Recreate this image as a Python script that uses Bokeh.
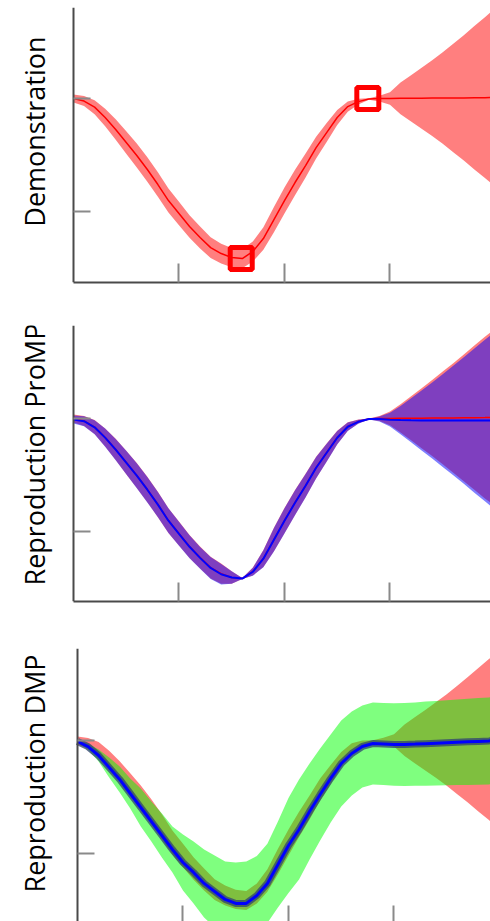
from bokeh.plotting import figure
from bokeh.models import Range1d, FixedTicker
from bokeh.core.properties import value
from bokeh.layouts import column
from bokeh.embed import file_html
from bokeh.resources import INLINE
import math

# Time samples shared by every trajectory
t = [0.0, 0.1, 0.2, 0.3, 0.4, 0.5, 0.6, 0.7, 0.8, 0.9,
     1.0, 1.1, 1.2, 1.3, 1.4, 1.5, 1.6, 1.7, 1.8, 1.9,
     2.0, 2.1, 2.2, 2.3, 2.4, 2.5, 2.6, 2.7, 2.8, 2.9,
     3.0, 3.1, 3.2, 3.3, 3.4, 3.5, 3.6, 3.7, 3.8, 3.9, 3.95]

# Demonstrated trajectory: mean and standard deviation
demo_mean = [1.000, 0.978, 0.924, 0.832, 0.726, 0.611, 0.496, 0.372, 0.239, 0.097,
             -0.018, -0.133, -0.230, -0.319, -0.372, -0.407, -0.416, -0.354, -0.239, -0.071,
             0.097, 0.257, 0.407, 0.566, 0.699, 0.832, 0.929, 0.973, 0.996, 1.000,
             1.001, 1.002, 1.002, 1.003, 1.004, 1.005, 1.005, 1.006, 1.007, 1.008, 1.009]
demo_sd = [0.035, 0.044, 0.062, 0.078, 0.090, 0.100, 0.106, 0.108, 0.108, 0.106,
           0.104, 0.100, 0.097, 0.092, 0.088, 0.085, 0.085, 0.088, 0.100, 0.112,
           0.115, 0.112, 0.106, 0.097, 0.084, 0.066, 0.046, 0.026, 0.006, 0.025,
           0.055, 0.140, 0.205, 0.270, 0.336, 0.405, 0.480, 0.555, 0.635, 0.712, 0.752]

# Via points imposed on the demonstration
via_t = [1.59, 2.79]
via_y = [-0.416, 1.000]

# ProMP reproduction (conditioned on the via points)
promp_mean = [0.991, 0.976, 0.922, 0.831, 0.725, 0.610, 0.494, 0.370, 0.238, 0.096,
              -0.020, -0.135, -0.233, -0.322, -0.378, -0.407, -0.416, -0.356, -0.240, -0.072,
              0.095, 0.255, 0.405, 0.564, 0.697, 0.830, 0.927, 0.971, 0.995, 0.995,
              0.990, 0.986, 0.984, 0.983, 0.983, 0.982, 0.982, 0.982, 0.982, 0.982, 0.982]
promp_sd = [0.035, 0.044, 0.062, 0.080, 0.094, 0.104, 0.110, 0.112, 0.112, 0.110,
            0.106, 0.102, 0.097, 0.097, 0.090, 0.055, 0.005, 0.035, 0.075, 0.104,
            0.112, 0.110, 0.104, 0.095, 0.080, 0.060, 0.038, 0.018, 0.004, 0.022,
            0.060, 0.125, 0.195, 0.265, 0.336, 0.410, 0.485, 0.560, 0.638, 0.715, 0.752]

# DMP reproduction
dmp_mean = [0.991, 0.945, 0.867, 0.761, 0.655, 0.531, 0.407, 0.283, 0.159, 0.035,
            -0.080, -0.168, -0.265, -0.336, -0.407, -0.442, -0.442, -0.372, -0.265, -0.097,
            0.071, 0.212, 0.372, 0.522, 0.664, 0.796, 0.885, 0.947, 0.973, 0.969,
            0.965, 0.965, 0.968, 0.972, 0.976, 0.980, 0.984, 0.988, 0.992, 0.996, 1.000]
dmp_sd = [0.010, 0.027, 0.053, 0.088, 0.115, 0.133, 0.168, 0.177, 0.195, 0.204,
          0.248, 0.274, 0.301, 0.319, 0.336, 0.363, 0.372, 0.350, 0.350, 0.380,
          0.420, 0.442, 0.425, 0.407, 0.389, 0.381, 0.372, 0.363, 0.363, 0.363,
          0.365, 0.367, 0.369, 0.372, 0.374, 0.376, 0.378, 0.381, 0.383, 0.385, 0.385]

x_ticks = [1, 2, 3]
y_ticks = [0, 1]
row_titles = ["Demonstration", "Reproduction ProMP", "Reproduction DMP"]


def band(mean, sd):
    lo = [m - s for m, s in zip(mean, sd)]
    hi = [m + s for m, s in zip(mean, sd)]
    return lo, hi


def make_panel(height, top, bottom, x_lo, x_hi, y_lo, y_hi, title, title_x, title_y):
    p = figure(width=490, height=height,
               x_range=Range1d(x_lo, x_hi), y_range=Range1d(y_lo, y_hi),
               output_backend="svg", toolbar_location=None,
               min_border_left=0, min_border_right=0,
               min_border_top=top, min_border_bottom=bottom)
    p.outline_line_color = None
    p.background_fill_color = "white"
    p.border_fill_color = "white"
    p.xgrid.visible = False
    p.ygrid.visible = False
    # the vertical axis sits at t = 0, leaving room for the row title on its left
    p.yaxis.fixed_location = 0
    p.xaxis.bounds = (0, x_hi)
    # unlabelled ticks, drawn inward
    for ax, ticks, tick_len in ((p.xaxis, x_ticks, 19), (p.yaxis, y_ticks, 17)):
        ax.ticker = FixedTicker(ticks=[], minor_ticks=ticks)
        ax.major_tick_line_color = None
        ax.minor_tick_in = tick_len
        ax.minor_tick_out = 0
        ax.minor_tick_line_color = "#8a8a8a"
        ax.minor_tick_line_width = 2
        ax.axis_line_color = "#4a4a4a"
        ax.axis_line_width = 2
    p.text(x=[title_x], y=[title_y], text=[title], angle=math.pi / 2,
           text_align="center", text_baseline="middle",
           text_font=value("Open Sans"), text_font_size=value("27px"),
           text_color="black")
    return p


# Panel 1: demonstration with via points
p1 = make_panel(300, 7, 18, -0.692, 3.953, -0.628, 1.806, row_titles[0], -0.370, 0.708)
lo, hi = band(demo_mean, demo_sd)
p1.varea(x=t, y1=lo, y2=hi, fill_color="#ff0000", fill_alpha=0.5)
p1.line(t, demo_mean, line_color="#ff0000", line_width=1.5)
p1.scatter(via_t, via_y, marker="square", size=22, fill_color=None,
           line_color="#ff0000", line_width=5)

# Panel 2: ProMP reproduction over the conditioned target
p2 = make_panel(320, 25, 19, -0.692, 3.953, -0.619, 1.823, row_titles[1], -0.370, 0.681)
lo, hi = band(demo_mean, promp_sd)
p2.varea(x=t, y1=lo, y2=hi, fill_color="#ff0000", fill_alpha=0.5)
lo, hi = band(promp_mean, promp_sd)
p2.varea(x=t, y1=lo, y2=hi, fill_color="#0000ff", fill_alpha=0.5)
p2.line(t, demo_mean, line_color="#ff0000", line_width=1.5)
p2.line(t, promp_mean, line_color="#0000ff", line_width=2)

# Panel 3: DMP reproduction over the demonstration
p3 = make_panel(301, 28, 0, -0.730, 3.915, -0.602, 1.814, row_titles[2], -0.408, 0.708)
p3.xaxis.axis_line_color = None
p3.xaxis.minor_tick_in = 16
lo, hi = band(demo_mean, demo_sd)
p3.varea(x=t, y1=lo, y2=hi, fill_color="#ff0000", fill_alpha=0.5)
lo, hi = band(dmp_mean, dmp_sd)
p3.varea(x=t, y1=lo, y2=hi, fill_color="#00ff00", fill_alpha=0.5)
p3.line(t, dmp_mean, line_color="#2f4272", line_width=7, line_alpha=0.75)
p3.line(t, dmp_mean, line_color="#0000ff", line_width=3)

layout = column(p1, p2, p3, spacing=0)
open("out.html", "w").write(file_html(layout, INLINE))
